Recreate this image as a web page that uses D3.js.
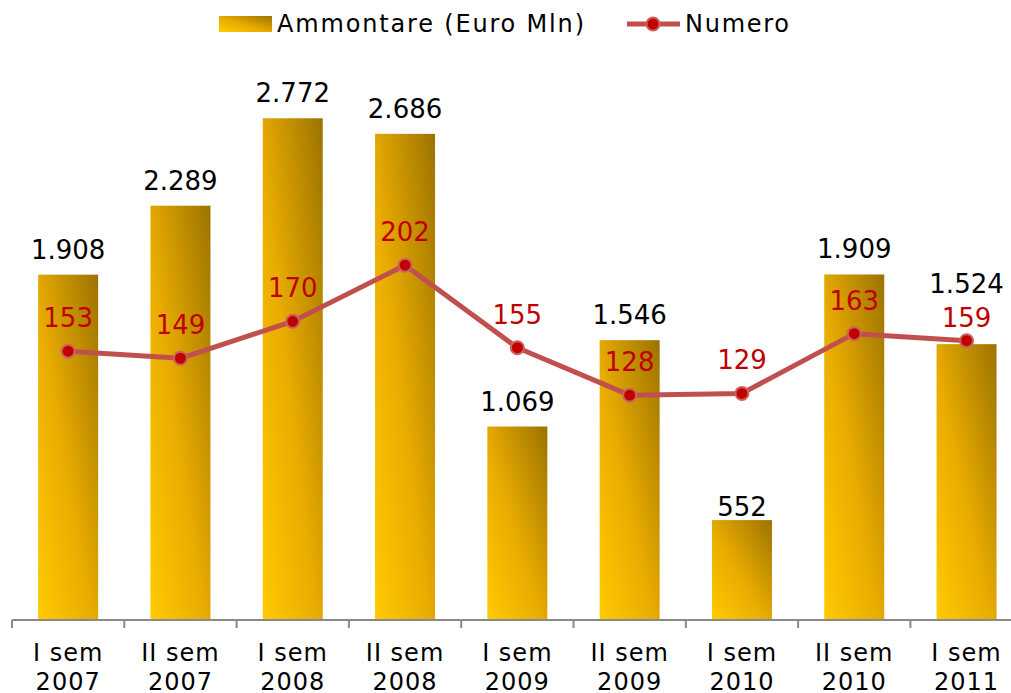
<!DOCTYPE html>
<html>
<head>
<meta charset="utf-8">
<script src="https://cdn.jsdelivr.net/npm/d3@7"></script>
<style>
  body { margin: 0; background: #fff; }
  text { font-family: "DejaVu Sans", Verdana, sans-serif; }
</style>
</head>
<body>
<div id="chart"></div>
<script>
// data
var semesters = ["I sem", "II sem", "I sem", "II sem", "I sem", "II sem", "I sem", "II sem", "I sem"];
var years = ["2007", "2007", "2008", "2008", "2009", "2009", "2010", "2010", "2011"];
var ammontare = [1908, 2289, 2772, 2686, 1069, 1546, 552, 1909, 1524];
var numero = [153, 149, 170, 202, 155, 128, 129, 163, 159];

var width = 1011;
var height = 693;

var svg = d3.select("#chart").append("svg")
  .attr("width", width)
  .attr("height", height);

var fmt = d3.format(",");
function itNum(v) { return fmt(v).replace(/,/g, "."); }

var idx = d3.range(ammontare.length);

var x = d3.scaleBand()
  .domain(idx)
  .range([12, 12 + 112.3 * idx.length]);

var y = d3.scaleLinear().domain([0, 3000]).range([620, 77]);
var y2 = d3.scaleLinear().domain([0, 300]).range([620, 93]);

var barW = 60;

var defs = svg.append("defs");
var grad = defs.append("linearGradient")
  .attr("id", "barGrad")
  .attr("x1", 0).attr("y1", 1)
  .attr("x2", 1).attr("y2", 0);
grad.append("stop").attr("offset", "0%").attr("stop-color", "#FFCA00");
grad.append("stop").attr("offset", "45%").attr("stop-color", "#E9AC00");
grad.append("stop").attr("offset", "100%").attr("stop-color", "#9C7300");

// bars
svg.selectAll(".bar")
  .data(idx)
  .enter().append("rect")
  .attr("class", "bar")
  .attr("x", function (i) { return x(i) + x.bandwidth() / 2 - barW / 2; })
  .attr("y", function (i) { return y(ammontare[i]); })
  .attr("width", barW)
  .attr("height", function (i) { return y(0) - y(ammontare[i]); })
  .attr("fill", "url(#barGrad)");

// bar value labels (a couple nudged like in the original)
var barLift = { 6: 4, 8: 51 };
svg.selectAll(".barlab")
  .data(idx)
  .enter().append("text")
  .attr("class", "barlab")
  .attr("x", function (i) { return x(i) + x.bandwidth() / 2; })
  .attr("y", function (i) { return y(ammontare[i]) - (barLift[i] || 16); })
  .attr("text-anchor", "middle")
  .style("font-size", "26px")
  .style("fill", "#000")
  .text(function (i) { return itNum(ammontare[i]); });

// axis
svg.append("line")
  .attr("x1", x.range()[0]).attr("x2", x.range()[1])
  .attr("y1", 620).attr("y2", 620)
  .attr("stroke", "#898989").attr("stroke-width", 2);

svg.selectAll(".tick")
  .data(d3.range(idx.length + 1))
  .enter().append("line")
  .attr("x1", function (i) { return x.range()[0] + i * x.step(); })
  .attr("x2", function (i) { return x.range()[0] + i * x.step(); })
  .attr("y1", 620).attr("y2", 628)
  .attr("stroke", "#898989").attr("stroke-width", 2);

var cat = svg.selectAll(".cat")
  .data(idx)
  .enter().append("text")
  .attr("class", "cat")
  .attr("text-anchor", "middle")
  .style("font-size", "24px")
  .style("letter-spacing", "1px")
  .style("fill", "#000");
cat.append("tspan")
  .attr("x", function (i) { return x(i) + x.bandwidth() / 2; })
  .attr("y", 661)
  .text(function (i) { return semesters[i]; });
cat.append("tspan")
  .attr("x", function (i) { return x(i) + x.bandwidth() / 2; })
  .attr("y", 690)
  .text(function (i) { return years[i]; });

// line
var line = d3.line()
  .x(function (i) { return x(i) + x.bandwidth() / 2; })
  .y(function (i) { return y2(numero[i]); });

svg.append("path")
  .datum(idx)
  .attr("d", line)
  .attr("fill", "none")
  .attr("stroke", "#C0504D")
  .attr("stroke-width", 5)
  .attr("stroke-linejoin", "round");

svg.selectAll(".dot")
  .data(idx)
  .enter().append("circle")
  .attr("cx", function (i) { return x(i) + x.bandwidth() / 2; })
  .attr("cy", function (i) { return y2(numero[i]); })
  .attr("r", 6.5)
  .attr("fill", "#C00000")
  .attr("stroke", "#D0605C")
  .attr("stroke-width", 2);

var lineLift = { 8: 14 };
svg.selectAll(".linelab")
  .data(idx)
  .enter().append("text")
  .attr("x", function (i) { return x(i) + x.bandwidth() / 2; })
  .attr("y", function (i) { return y2(numero[i]) - (lineLift[i] || 24); })
  .attr("text-anchor", "middle")
  .style("font-size", "26px")
  .style("fill", "#C00000")
  .text(function (i) { return numero[i]; });

// legend
var legend = svg.append("g");
legend.append("rect")
  .attr("x", 219).attr("y", 16)
  .attr("width", 53).attr("height", 16)
  .attr("fill", "url(#barGrad)");
legend.append("text")
  .attr("x", 277).attr("y", 32)
  .attr("textLength", 307)
  .style("font-size", "24px")
  .text("Ammontare (Euro Mln)");
legend.append("line")
  .attr("x1", 627).attr("x2", 680)
  .attr("y1", 24).attr("y2", 24)
  .attr("stroke", "#C0504D").attr("stroke-width", 5);
legend.append("circle")
  .attr("cx", 653).attr("cy", 24).attr("r", 6.5)
  .attr("fill", "#C00000")
  .attr("stroke", "#D0605C").attr("stroke-width", 2);
legend.append("text")
  .attr("x", 685).attr("y", 32)
  .attr("textLength", 104)
  .style("font-size", "24px")
  .text("Numero");
</script>
</body>
</html>
